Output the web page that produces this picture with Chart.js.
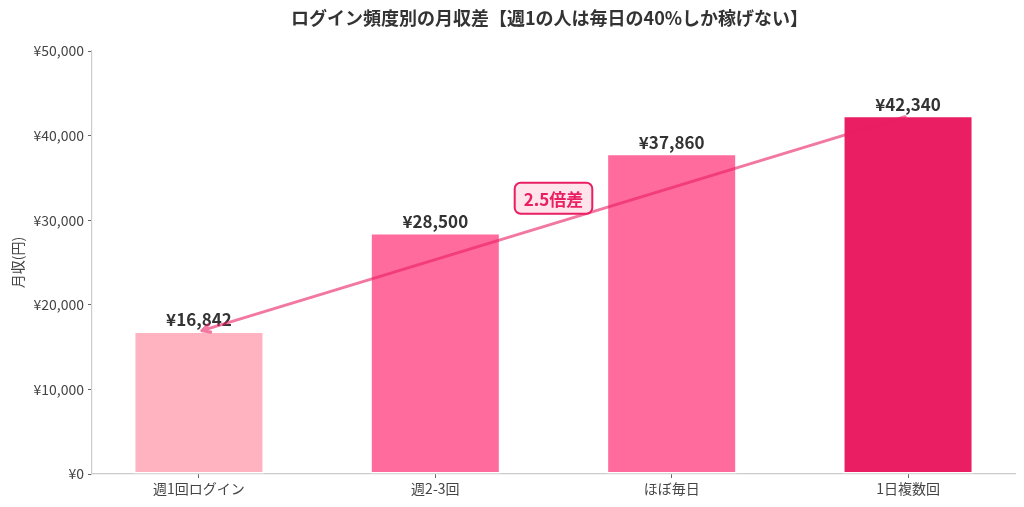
<!DOCTYPE html>
<html><head><meta charset="utf-8">
<script src="https://cdn.jsdelivr.net/npm/chart.js@4/dist/chart.umd.min.js"></script>
<style>html,body{margin:0;padding:0;background:#fff}canvas{display:block}</style>
</head><body>
<canvas id="c" width="1024" height="507"></canvas>
<script>
const chartTitle = 'ログイン頻度別の月収差【週1の人は毎日の40%しか稼げない】';
const categories = ['週1回ログイン', '週2-3回', 'ほぼ毎日', '1日複数回'];
const income = [16842, 28500, 37860, 42340];
const barColors = ['#ffb3c1', '#ff6b9d', '#ff6b9d', '#e91e63'];
const yTicks = [0, 10000, 20000, 30000, 40000, 50000];
const yAxisLabel = '月収(円)';
const gapLabel = '2.5倍差';
const gapLabelPos = [1.5, 32600];
const arrowFrom = [3, 42340];
const arrowTo = [0, 16842];

const FONT = "'Noto Sans CJK JP', 'Noto Sans', sans-serif";
const yen = v => '¥' + Number(v).toLocaleString('en-US');

const overlay = {
  id: 'overlay',
  afterDatasetsDraw(chart) {
    const ctx = chart.ctx, xs = chart.scales.x, ys = chart.scales.y;
    const meta = chart.getDatasetMeta(0);
    ctx.save();
    ctx.font = `bold 17px ${FONT}`;
    ctx.fillStyle = '#333';
    ctx.textAlign = 'center';
    ctx.textBaseline = 'bottom';
    meta.data.forEach((bar, i) => {
      ctx.fillText(yen(income[i]), bar.x, bar.y - 3);
    });
    ctx.restore();
    const x1 = xs.getPixelForValue(arrowFrom[0]), y1 = ys.getPixelForValue(arrowFrom[1]);
    const x2 = xs.getPixelForValue(arrowTo[0]), y2 = ys.getPixelForValue(arrowTo[1]);
    const ang = Math.atan2(y2 - y1, x2 - x1);
    const sh = 3;
    const sx = x1 + Math.cos(ang) * sh, sy = y1 + Math.sin(ang) * sh;
    const ex = x2 - Math.cos(ang) * sh, ey = y2 - Math.sin(ang) * sh;
    ctx.save();
    ctx.strokeStyle = 'rgba(233,30,99,0.6)';
    ctx.lineWidth = 3;
    ctx.lineCap = 'round';
    ctx.lineJoin = 'round';
    ctx.beginPath();
    ctx.moveTo(sx, sy); ctx.lineTo(ex, ey);
    const hl = 9, ha = 0.45;
    ctx.moveTo(ex - Math.cos(ang - ha) * hl, ey - Math.sin(ang - ha) * hl);
    ctx.lineTo(ex, ey);
    ctx.lineTo(ex - Math.cos(ang + ha) * hl, ey - Math.sin(ang + ha) * hl);
    ctx.stroke();
    ctx.restore();
    const bx = xs.getPixelForValue(gapLabelPos[0]), by = ys.getPixelForValue(gapLabelPos[1]);
    ctx.save();
    ctx.font = `bold 17px ${FONT}`;
    const tw = ctx.measureText(gapLabel).width;
    const w = tw + 18, h = 31, r = 6;
    ctx.beginPath();
    ctx.roundRect(bx - w / 2, by - h / 2, w, h, r);
    ctx.fillStyle = '#ffe4ec';
    ctx.fill();
    ctx.lineWidth = 2;
    ctx.strokeStyle = '#e91e63';
    ctx.stroke();
    ctx.fillStyle = '#e91e63';
    ctx.textAlign = 'center';
    ctx.textBaseline = 'middle';
    ctx.fillText(gapLabel, bx, by + 1);
    ctx.restore();
  },
  afterDraw(chart) {
    const ctx = chart.ctx, a = chart.chartArea;
    ctx.save();
    ctx.font = `bold 18px ${FONT}`;
    ctx.fillStyle = '#333';
    ctx.textAlign = 'center';
    ctx.textBaseline = 'middle';
    ctx.fillText(chartTitle, (a.left + a.right) / 2 - 4, 18);
    ctx.restore();
  }
};

new Chart(document.getElementById('c'), {
  type: 'bar',
  data: {
    datasets: [{
      data: income.map((v, i) => ({ x: i, y: v })),
      backgroundColor: barColors,
      borderColor: '#ffffff',
      borderWidth: 1.5,
      borderSkipped: false,
      barPercentage: 0.55,
      categoryPercentage: 1
    }]
  },
  options: {
    responsive: false,
    animation: false,
    devicePixelRatio: 1,
    layout: { padding: { top: 51, right: 9, left: 0, bottom: 0 } },
    plugins: { legend: { display: false }, tooltip: { enabled: false }, title: { display: false } },
    scales: {
      x: {
        type: 'linear',
        offset: false,
        min: -0.4525, max: 3.4525,
        afterBuildTicks: s => { s.ticks = categories.map((_, i) => ({ value: i })); },
        afterFit: s => { s.height = 33; },
        ticks: {
          callback: v => categories[v],
          font: { family: FONT, size: 14 }, color: '#444',
          padding: 2, autoSkip: false, maxRotation: 0
        },
        grid: { offset: false, drawOnChartArea: false, tickLength: 4, tickColor: '#666', tickWidth: 1 },
        border: { color: '#cccccc', width: 1.2 }
      },
      y: {
        min: 0, max: 50000,
        afterBuildTicks: s => { s.ticks = yTicks.map(v => ({ value: v })); },
        afterFit: s => { s.width = 92; },
        ticks: {
          callback: v => yen(v),
          font: { family: FONT, size: 14 }, color: '#444', padding: 4
        },
        grid: { drawOnChartArea: false, tickLength: 4, tickColor: '#666', tickWidth: 1 },
        border: { color: '#cccccc', width: 1.2 },
        title: { display: true, text: yAxisLabel, font: { family: FONT, size: 14 }, color: '#444', padding: { top: 9, bottom: 0 } }
      }
    }
  },
  plugins: [overlay]
});
</script>
</body></html>
